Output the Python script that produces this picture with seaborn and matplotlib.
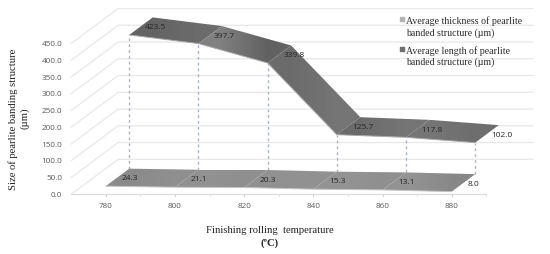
import numpy as np
import pandas as pd
import matplotlib.pyplot as plt
from matplotlib.patches import Polygon
import seaborn as sns

sns.set_theme(style="white")

# ------------------------------
# DATA
# ------------------------------
temps = [780, 800, 820, 840, 860, 880]
thickness = [24.3, 21.1, 20.3, 15.3, 13.1, 8.0]
length = [423.5, 397.7, 339.8, 125.7, 117.8, 102.0]
y_ticks = [0, 50, 100, 150, 200, 250, 300, 350, 400, 450]
thick_name = "Average thickness of pearlite\nbanded structure (µm)"
length_name = "Average length of pearlite\nbanded structure (µm)"

# oblique projection: one unit of depth moves this far in temp / value units
DX = 13.58
DY = 104.5
T_MIN, T_MAX = 770, 890


def proj(t, v, d):
    return t + d * DX, v + d * DY


def shaded_ribbon(ax, values, d0, d1, shades):
    for i in range(len(temps) - 1):
        corners = [
            proj(temps[i], values[i], d0),
            proj(temps[i + 1], values[i + 1], d0),
            proj(temps[i + 1], values[i + 1], d1),
            proj(temps[i], values[i], d1),
        ]
        xs = [c[0] for c in corners]
        ys = [c[1] for c in corners]
        poly = Polygon(corners, closed=True, transform=ax.transData,
                       facecolor="none", edgecolor="none")
        ax.add_patch(poly)
        img = ax.imshow(np.array([shades[i]]), cmap="gray", vmin=0, vmax=1,
                        extent=(min(xs), max(xs), min(ys), max(ys)),
                        aspect="auto", interpolation="bilinear", zorder=3)
        img.set_clip_path(poly)


fig = plt.figure(figsize=(5.5, 2.55), dpi=100)
ax = fig.add_axes([0, 0, 1, 1])

# ------------------------------
# WALLS AND FLOOR
# ------------------------------
grid_color = "#e8e8e8"
for v in y_ticks:
    x0, y0 = proj(T_MIN, v, 0)
    x1, y1 = proj(T_MIN, v, 1)
    x2, y2 = proj(T_MAX, v, 1)
    ax.plot([x0, x1, x2], [y0, y1, y2], color=grid_color, lw=0.9, zorder=1)
    ax.text(T_MIN - 2.6, v, f"{v:.1f}", ha="right", va="center",
            fontsize=5.9, color="#595959", family="Open Sans")

ax.plot([T_MIN, T_MAX], [0, 0], color="#dcdcdc", lw=0.9, zorder=1)

for t in temps:
    ax.plot([t, t], [0, -6], color="#cfcfcf", lw=0.8, zorder=2)
    ax.plot([t + 10, t + 10], [0, -6], color="#e2e2e2", lw=0.7, zorder=2)
    ax.text(t, -33, str(t), ha="center", va="center",
            fontsize=5.9, color="#595959", family="Open Sans")

# ------------------------------
# DROP LINES
# ------------------------------
drops = pd.DataFrame({
    "t": temps * 2,
    "v": thickness + length,
    "series": ["low"] * 6 + ["high"] * 6,
})
drops["x"], drops["y"] = proj(drops["t"], drops["v"], 0.5)
sns.lineplot(data=drops, x="x", y="y", units="t", estimator=None, ax=ax,
             color="#a7b4c8", lw=1.0, linestyle=(0, (2, 2.2)), zorder=2,
             legend=False, sort=False)

# ------------------------------
# RIBBONS
# ------------------------------
thick_shades = [[0.54, 0.56], [0.57, 0.56], [0.57, 0.57],
                [0.58, 0.56], [0.58, 0.53]]
length_shades = [[0.39, 0.42], [0.50, 0.38], [0.42, 0.46],
                 [0.42, 0.46], [0.46, 0.43]]
shaded_ribbon(ax, thickness, 0, 0.5, thick_shades)
shaded_ribbon(ax, length, 0.5, 1, length_shades)

front_low = pd.DataFrame({"t": temps, "v": thickness})
front_high = pd.DataFrame({"t": temps, "v": length})
front_low["x"], front_low["y"] = proj(front_low["t"], front_low["v"], 0)
front_high["x"], front_high["y"] = proj(front_high["t"], front_high["v"], 0.5)
sns.lineplot(data=front_low, x="x", y="y", ax=ax, color="#c4c4c4", lw=0.7,
             zorder=4, sort=False)
sns.lineplot(data=front_high, x="x", y="y", ax=ax, color="#a8a8a8", lw=0.7,
             zorder=4, sort=False)

# ------------------------------
# DATA LABELS
# ------------------------------
for t, v in zip(temps, thickness):
    x, y = proj(t, v, 0.25)
    ax.text(x + 3.6 if t < 880 else x + 3.0, y - 1, f"{v:.1f}", ha="center",
            va="center", fontsize=6.0, color="#262626", family="Open Sans",
            zorder=5)
for t, v in zip(temps, length):
    x, y = proj(t, v, 0.75)
    ax.text(x + 4.2, y - 2, f"{v:.1f}", ha="center", va="center",
            fontsize=6.0, color="#262626", family="Open Sans", zorder=5)

# ------------------------------
# LEGEND AND TITLES
# ------------------------------
serif = "Liberation Serif"
for name, col, mark_y in [(thick_name, "#b4b4b4", 523), (length_name, "#707070", 434)]:
    ax.scatter([865.5], [mark_y], marker="s", s=9, color=col, zorder=5)
    ax.text(866.8, mark_y + 11, name, ha="left", va="top", fontsize=7.1,
            color="#2a2a2a", family=serif, linespacing=1.25)

fig.text(0.0235, 0.532, "Size of pearlite banding structure", rotation=90,
         ha="center", va="center", fontsize=7.7, color="#222222", family=serif)
fig.text(0.0455, 0.537, "(µm)", rotation=90, ha="center", va="center",
         fontsize=7.7, color="#222222", family=serif)
fig.text(0.490, 0.098, "Finishing rolling  temperature", ha="center",
         va="center", fontsize=7.7, color="#222222", family=serif)
fig.text(0.491, 0.045, "(ºC)", ha="center", va="center", fontsize=7.7,
         color="#222222", family=serif, fontweight="bold")

ax.set_xlim(749.45, 908.4)
ax.set_ylim(-178.2, 583)
ax.set_axis_off()

fig.savefig("out.png", dpi=100, facecolor="white")
